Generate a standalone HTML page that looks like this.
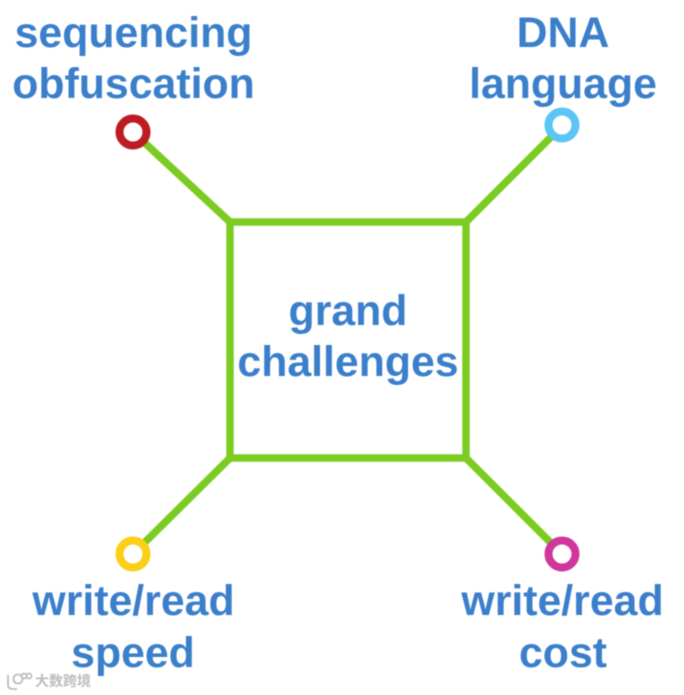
<!DOCTYPE html>
<html>
<head>
<meta charset="utf-8">
<style>
html,body{margin:0;padding:0;background:#fff;width:684px;height:695px;overflow:hidden}
svg{display:block;filter:blur(.6px)}
text.l{font-family:"Liberation Sans",sans-serif;font-weight:bold;font-size:42.8px;fill:#3b7fcb;text-anchor:middle}
</style>
</head>
<body>
<svg width="684" height="695" viewBox="0 0 684 695" xmlns="http://www.w3.org/2000/svg">
<rect width="684" height="695" fill="#fff"/>
<g stroke="#7ccb22" stroke-width="7.5" fill="none">
<rect x="230" y="222" width="236" height="236"/>
<line x1="230" y1="222" x2="133" y2="132"/>
<line x1="466" y1="222" x2="562" y2="126"/>
<line x1="230" y1="458" x2="133" y2="554"/>
<line x1="466" y1="458" x2="562" y2="554"/>
</g>
<circle cx="133" cy="132" r="13.5" fill="#fff" stroke="#bd1c22" stroke-width="8"/>
<circle cx="562" cy="125" r="13.5" fill="#fff" stroke="#5bc5f5" stroke-width="8"/>
<circle cx="133" cy="554" r="13.5" fill="#fff" stroke="#fbcf17" stroke-width="8"/>
<circle cx="562" cy="554" r="13.5" fill="#fff" stroke="#d0369c" stroke-width="8"/>
<text class="l" x="133.500" y="47">sequencing</text>
<text class="l" x="133.500" y="98">obfuscation</text>
<text class="l" x="563" y="47">DNA</text>
<text class="l" x="563" y="98">language</text>
<text class="l" x="348" y="325">grand</text>
<text class="l" x="348" y="376">challenges</text>
<text class="l" x="133.500" y="615">write/read</text>
<text class="l" x="133" y="667">speed</text>
<text class="l" x="562.500" y="615">write/read</text>
<text class="l" x="563" y="667">cost</text>
<g fill="none" stroke="#bdbdbd" stroke-width="1.8">
<path d="M8 675v10q0 4 5 4h4"/>
<circle cx="18" cy="679" r="4.5"/>
<circle cx="24" cy="676" r="2.5"/>
<circle cx="29" cy="676" r="2.5"/>
</g>
<text x="35" y="686" font-family="'Liberation Sans','Noto Sans CJK SC',sans-serif" font-weight="bold" font-size="14" fill="#bdbdbd">大数跨境</text>
</svg>
</body>
</html>
